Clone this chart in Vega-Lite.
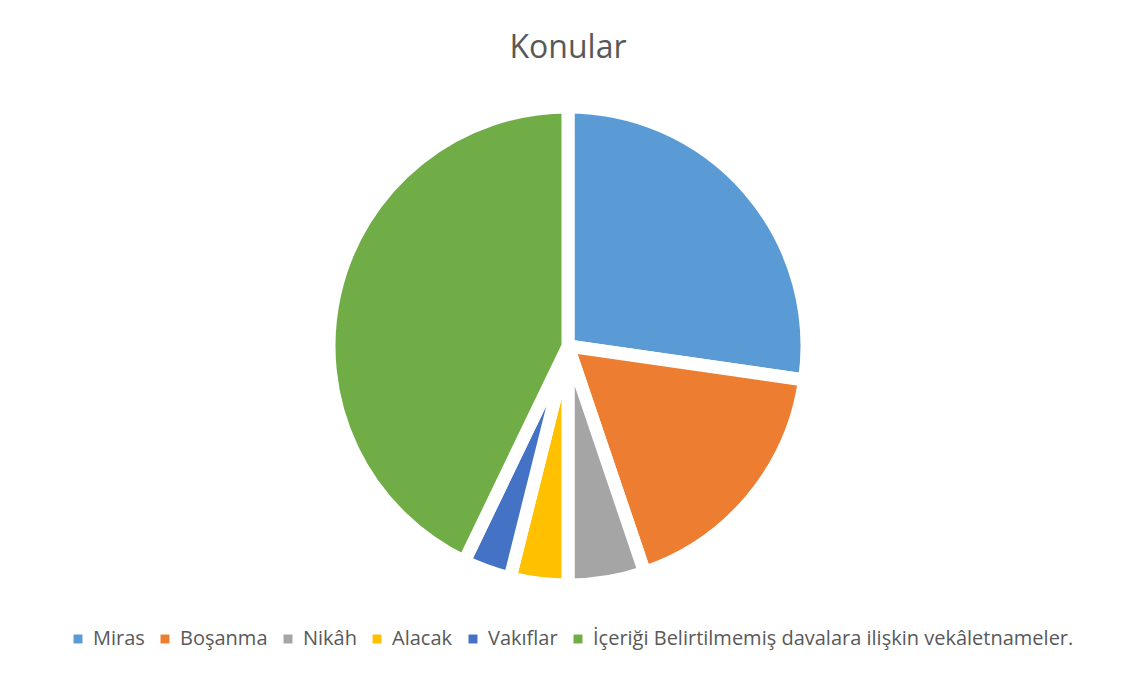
{
  "$schema": "https://vega.github.io/schema/vega-lite/v6.json",
  "width": 1000,
  "height": 480,
  "padding": {"top": 32, "bottom": 10, "left": 68, "right": 65},
  "background": "white",
  "title": {
    "text": "Konular",
    "fontSize": 32,
    "font": "Open Sans",
    "fontWeight": "normal",
    "color": "#595959",
    "offset": 16
  },
  "data": {
    "values": [
      {"konu": "Miras", "sayi": 42, "sira": 1},
      {"konu": "Boşanma", "sayi": 27, "sira": 2},
      {"konu": "Nikâh", "sayi": 8, "sira": 3},
      {"konu": "Alacak", "sayi": 6, "sira": 4},
      {"konu": "Vakıflar", "sayi": 5, "sira": 5},
      {"konu": "İçeriği Belirtilmemiş davalara ilişkin vekâletnameler.", "sayi": 66, "sira": 6}
    ]
  },
  "mark": {"type": "arc", "radius": 239, "stroke": "white", "strokeWidth": 13, "strokeJoin": "miter"},
  "encoding": {
    "theta": {"field": "sayi", "type": "quantitative", "stack": true},
    "order": {"field": "sira", "type": "quantitative"},
    "color": {
      "field": "konu",
      "type": "nominal",
      "sort": null,
      "scale": {
        "domain": ["Miras", "Boşanma", "Nikâh", "Alacak", "Vakıflar", "İçeriği Belirtilmemiş davalara ilişkin vekâletnameler."],
        "range": ["#5B9BD5", "#ED7D31", "#A5A5A5", "#FFC000", "#4472C4", "#70AD47"]
      },
      "legend": {
        "orient": "bottom",
        "direction": "horizontal",
        "title": null,
        "symbolType": "square",
        "symbolSize": 80,
        "symbolStrokeWidth": 0,
        "labelFontSize": 20,
        "labelFont": "Open Sans",
        "labelColor": "#595959",
        "labelLimit": 700,
        "labelOffset": 5,
        "columnPadding": 10,
        "offset": 43
      }
    }
  },
  "config": {"view": {"stroke": null}}
}
